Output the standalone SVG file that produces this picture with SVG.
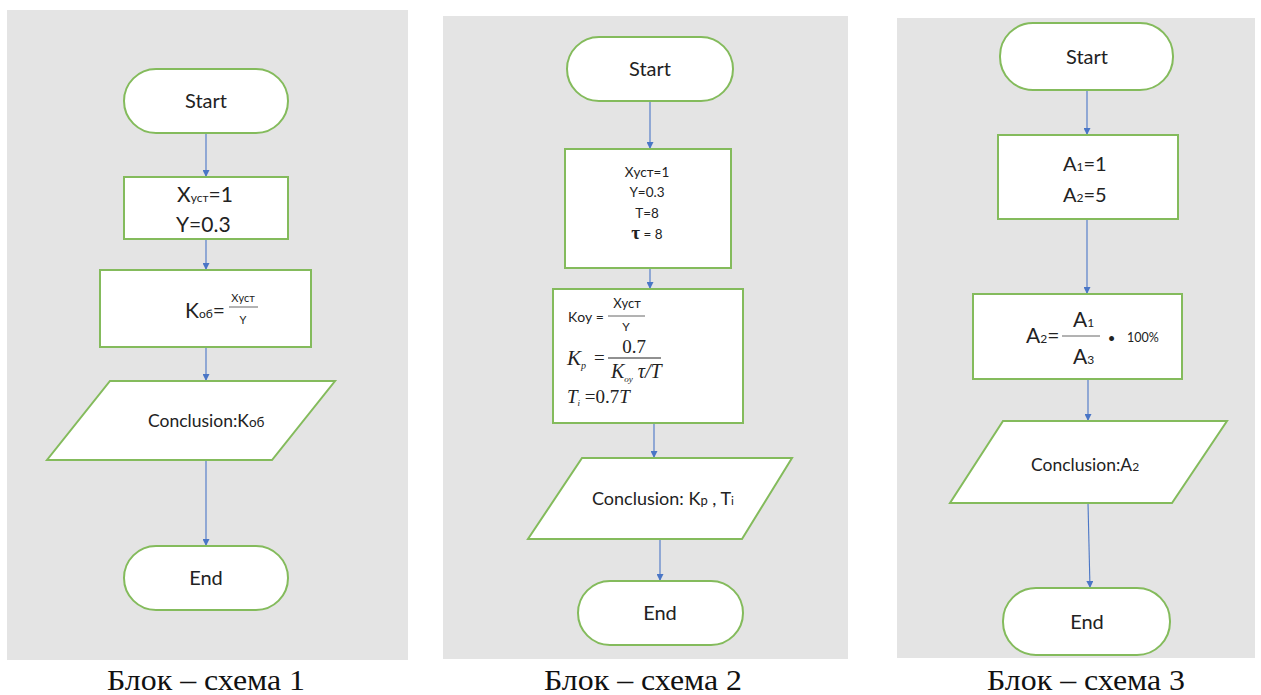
<svg xmlns="http://www.w3.org/2000/svg" width="1261" height="695" viewBox="0 0 1261 695">
<style>
.panel{fill:#e4e4e4}
.node{fill:#ffffff;stroke:#84bb5c;stroke-width:2}
.conn{stroke:#4a76c6;stroke-width:1.1;fill:none}
.t{font-family:Lato,"Open Sans","Liberation Sans",sans-serif;fill:#222}
.s{font-family:"Liberation Serif","Times New Roman",serif;fill:#222}
.cap{font-family:"Liberation Serif","Times New Roman",serif;font-size:29px;fill:#111;text-anchor:middle}
.fr{stroke:#666;stroke-width:1}
</style>
<defs>
<marker id="ah" viewBox="0 0 10 10" refX="10" refY="5" markerWidth="7" markerHeight="7" markerUnits="userSpaceOnUse" orient="auto">
<path d="M0,0 L10,5 L0,10 z" fill="#4a76c6"/>
</marker>
</defs>

<rect class="panel" x="7" y="10" width="401" height="650"/>
<rect class="panel" x="443" y="16" width="405" height="643"/>
<rect class="panel" x="897" y="18" width="358" height="640"/>

<g id="connectors">
<line class="conn" x1="206" y1="133" x2="206" y2="177" marker-end="url(#ah)"/>
<line class="conn" x1="206" y1="239" x2="206" y2="270" marker-end="url(#ah)"/>
<line class="conn" x1="206" y1="347" x2="206" y2="381" marker-end="url(#ah)"/>
<line class="conn" x1="206" y1="460" x2="206" y2="546" marker-end="url(#ah)"/>

<line class="conn" x1="650" y1="101" x2="650" y2="149" marker-end="url(#ah)"/>
<line class="conn" x1="650" y1="268" x2="650" y2="289" marker-end="url(#ah)"/>
<line class="conn" x1="654" y1="423" x2="654" y2="458" marker-end="url(#ah)"/>
<line class="conn" x1="660" y1="539" x2="660" y2="581" marker-end="url(#ah)"/>

<line class="conn" x1="1087" y1="90" x2="1087" y2="135" marker-end="url(#ah)"/>
<line class="conn" x1="1087" y1="219" x2="1087" y2="294" marker-end="url(#ah)"/>
<line class="conn" x1="1088" y1="379" x2="1088" y2="421" marker-end="url(#ah)"/>
<line class="conn" x1="1088" y1="503" x2="1090" y2="588" marker-end="url(#ah)"/>
</g>

<!-- Panel 1 -->
<g id="p1-start">
<rect class="node" x="124" y="69" width="164" height="64" rx="32"/>
<text class="t" x="206" y="108" font-size="20" text-anchor="middle">Start</text>
</g>
<g id="p1-init">
<rect class="node" x="124" y="177" width="164" height="62"/>
<text class="t" x="177" y="202" font-size="21">X<tspan font-size="12">уст</tspan>=1</text>
<text class="t" x="176" y="232" font-size="21">Y=0.3</text>
</g>
<g id="p1-calc">
<rect class="node" x="100" y="270" width="211" height="77"/>
<text class="t" x="185" y="318" font-size="21">K<tspan font-size="12">об</tspan>=</text>
<text class="t" x="243" y="302" font-size="11" text-anchor="middle">Xуст</text>
<line class="fr" x1="229" y1="307" x2="258" y2="307"/>
<text class="t" x="243" y="324" font-size="11" text-anchor="middle">Y</text>
</g>
<g id="p1-out">
<polygon class="node" points="110,381 335,381 272,460 47,460"/>
<text class="t" x="148" y="427" font-size="17.5">Conclusion:K<tspan font-size="13.5">об</tspan></text>
</g>
<g id="p1-end">
<rect class="node" x="124" y="546" width="164" height="64" rx="32"/>
<text class="t" x="206" y="585" font-size="20" text-anchor="middle">End</text>
</g>

<!-- Panel 2 -->
<g id="p2-start">
<rect class="node" x="567" y="37" width="166" height="64" rx="32"/>
<text class="t" x="650" y="76" font-size="20" text-anchor="middle">Start</text>
</g>
<g id="p2-init">
<rect class="node" x="565" y="149" width="166" height="119"/>
<text class="t" x="647" y="177" font-size="13.5" text-anchor="middle">Xуст=1</text>
<text class="t" x="647" y="197" font-size="13.5" text-anchor="middle">Y=0.3</text>
<text class="t" x="647" y="218" font-size="13.5" text-anchor="middle">T=8</text>
<text class="t" x="647" y="239" font-size="13.5" text-anchor="middle"><tspan font-size="19" font-weight="bold" class="s">τ</tspan> = 8</text>
</g>
<g id="p2-calc">
<rect class="node" x="553" y="289" width="190" height="134"/>
<text class="t" x="568" y="322" font-size="14">Kоу =</text>
<text class="t" x="627" y="308" font-size="13" text-anchor="middle">Xуст</text>
<line class="fr" x1="608" y1="316" x2="645" y2="316"/>
<text class="t" x="626" y="331" font-size="12" text-anchor="middle">Y</text>
<text class="s" x="567" y="365" font-size="21" font-style="italic">K<tspan font-size="10" dy="4">p</tspan></text>
<text class="s" x="594" y="364" font-size="19">=</text>
<text class="s" x="634" y="353" font-size="19" text-anchor="middle">0.7</text>
<line x1="608" y1="358" x2="661" y2="358" stroke="#222" stroke-width="1"/>
<text class="s" x="611" y="378" font-size="20" font-style="italic">K<tspan font-size="9" dy="4">oy</tspan><tspan dy="-4"> τ/T</tspan></text>
<text class="s" x="567" y="403" font-size="19" font-style="italic">T<tspan font-size="9" dy="3">i</tspan><tspan dy="-3" font-style="normal"> =0.7</tspan>T</text>
</g>
<g id="p2-out">
<polygon class="node" points="582,458 792,458 742,539 528,539"/>
<text class="t" x="592" y="505" font-size="18">Conclusion: K<tspan font-size="13">p</tspan> , T<tspan font-size="12">i</tspan></text>
</g>
<g id="p2-end">
<rect class="node" x="578" y="581" width="165" height="64" rx="32"/>
<text class="t" x="660" y="620" font-size="20" text-anchor="middle">End</text>
</g>

<!-- Panel 3 -->
<g id="p3-start">
<rect class="node" x="1000" y="23" width="173" height="67" rx="33"/>
<text class="t" x="1087" y="64" font-size="20" text-anchor="middle">Start</text>
</g>
<g id="p3-init">
<rect class="node" x="998" y="135" width="180" height="84"/>
<text class="t" x="1063" y="171" font-size="20">A<tspan font-size="12">1</tspan>=1</text>
<text class="t" x="1063" y="202" font-size="20">A<tspan font-size="12">2</tspan>=5</text>
</g>
<g id="p3-calc">
<rect class="node" x="973" y="294" width="209" height="85"/>
<text class="t" x="1026" y="343" font-size="21">A<tspan font-size="12">2</tspan>=</text>
<line class="fr" x1="1062" y1="336" x2="1100" y2="336"/>
<text class="t" x="1073" y="327" font-size="21">A<tspan font-size="12">1</tspan></text>
<text class="t" x="1073" y="364" font-size="21">A<tspan font-size="12">3</tspan></text>
<text class="t" x="1108" y="347" font-size="26" font-weight="bold">·</text>
<text class="t" x="1127" y="342" font-size="12.5">100%</text>
</g>
<g id="p3-out">
<polygon class="node" points="1003,421 1227,421 1172,503 950,503"/>
<text class="t" x="1031" y="471" font-size="17.5">Conclusion:A<tspan font-size="12">2</tspan></text>
</g>
<g id="p3-end">
<rect class="node" x="1003" y="588" width="167" height="67" rx="33"/>
<text class="t" x="1087" y="629" font-size="20" text-anchor="middle">End</text>
</g>

<text class="cap" x="206" y="690" textLength="198" lengthAdjust="spacingAndGlyphs">Блок – схема 1</text>
<text class="cap" x="643" y="690" textLength="198" lengthAdjust="spacingAndGlyphs">Блок – схема 2</text>
<text class="cap" x="1086" y="690" textLength="198" lengthAdjust="spacingAndGlyphs">Блок – схема 3</text>
</svg>
